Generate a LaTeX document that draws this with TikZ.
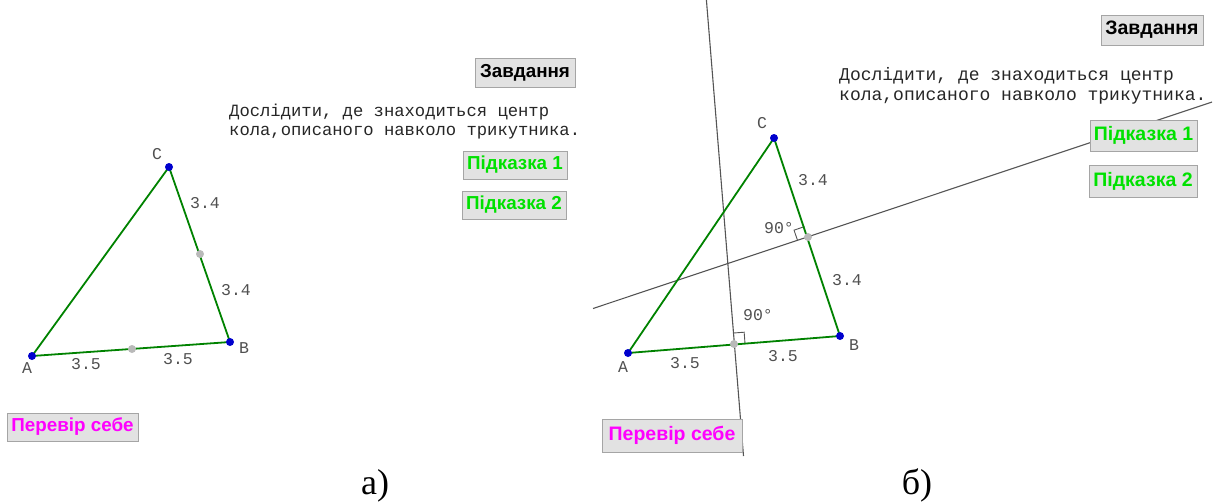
\documentclass[tikz,border=0pt]{standalone}
\usepackage{fontspec}
\setmainfont{Liberation Serif}
\newfontfamily\monof{Liberation Mono}
\newfontfamily\btnf{Liberation Sans}
\usetikzlibrary{calc}
\definecolor{trigreen}{RGB}{0,130,0}
\definecolor{vblue}{RGB}{0,0,205}
\definecolor{midgray}{RGB}{185,185,185}
\definecolor{btnfill}{RGB}{226,226,226}
\definecolor{btnedge}{RGB}{165,165,165}
\definecolor{hintgreen}{RGB}{0,225,0}
\definecolor{checkmag}{RGB}{255,0,255}
\definecolor{lblgray}{RGB}{80,80,80}
\definecolor{perpgray}{RGB}{85,85,85}
\tikzset{
  side/.style={draw=trigreen,line width=1.8pt},
  perpline/.style={draw=perpgray,line width=1.1pt},
  vdot/.style={circle,fill=vblue,inner sep=0pt,minimum size=8pt},
  mdot/.style={circle,fill=midgray,inner sep=0pt,minimum size=8pt},
  lbl/.style={font=\monof\fontsize{16.5}{16}\selectfont,text=lblgray,inner sep=0pt},
  desc/.style={font=\monof\fontsize{17.2}{19}\selectfont,text=black!85,inner sep=0pt,anchor=base west},
  descR/.style={font=\monof\fontsize{18}{20}\selectfont,text=black!85,inner sep=0pt,anchor=base west},
  btn/.style={fill=btnfill,draw=btnedge,line width=0.7pt,inner sep=0pt,font=\btnf\bfseries\fontsize{18.8}{19}\selectfont},
  btnR/.style={btn,font=\btnf\bfseries\fontsize{19.5}{20}\selectfont},
  captxt/.style={font=\fontsize{36}{36}\selectfont,inner sep=0pt,anchor=base},
  rmark/.style={draw=perpgray,line width=0.9pt}
}
\begin{document}
\begin{tikzpicture}[x=1pt,y=-1pt]
\useasboundingbox (0,0) rectangle (1220,503);

% ---------- left panel ----------
\coordinate (lA) at (32,356);
\coordinate (lB) at (230,342);
\coordinate (lC) at (169,167);
\draw[side] (lA) -- (lB) -- (lC) -- cycle;
\node[mdot] (lMab) at (132,349) {};
\node[mdot] (lMcb) at (200,254) {};
\node[vdot] (lAd) at (lA) {};
\node[vdot] (lBd) at (lB) {};
\node[vdot] (lCd) at (lC) {};
\node[lbl] (lAl) at (27,368) {A};
\node[lbl] (lBl) at (244,348) {B};
\node[lbl] (lCl) at (157,154) {C};
\node[lbl] (lcb1) at (205,203) {3.4};
\node[lbl] (lcb2) at (236,290) {3.4};
\node[lbl] (lab1) at (86,364) {3.5};
\node[lbl] (lab2) at (178,359) {3.5};

\node[btn,minimum width=100pt,minimum height=29pt] (lZ) at (525,72.5) {Завдання};
\node[desc] (lD1) at (229,116) {Дослідити, де знаходиться центр};
\node[desc] (lD2) at (229,135) {кола,описаного навколо трикутника.};
\node[btn,minimum width=104pt,minimum height=28pt,text=hintgreen] (lH1) at (515,165) {Підказка 1};
\node[btn,minimum width=104pt,minimum height=28pt,text=hintgreen] (lH2) at (514,205) {Підказка 2};
\node[btn,minimum width=131pt,minimum height=28pt,text=checkmag] (lP) at (72.5,427) {Перевір себе};

% ---------- right panel ----------
\coordinate (rA) at (628,353);
\coordinate (rB) at (840,336);
\coordinate (rC) at (774,138);
\coordinate (rM1) at (734,344);
\coordinate (rM2) at (808,237);
% perpendicular bisectors
\coordinate (p1a) at (706,-5);
\coordinate (p1b) at (743.5,456);
\coordinate (p2a) at (593,308.5);
\coordinate (p2b) at (1212,102);
\draw[perpline] (p1a) -- (p1b);
\draw[perpline] (p2a) -- (p2b);
% right-angle marks
\draw[rmark] ($(rM1)!11pt!(rB)$) -- ($(rM1)!11pt!(rB)!11pt!-90:(rM1)$) -- ($(rM1)!11pt!90:(rB)$);
\draw[rmark] ($(rM2)!11pt!(rC)$) -- ($(rM2)!11pt!(rC)!11pt!-90:(rM2)$) -- ($(rM2)!11pt!90:(rC)$);
\draw[side] (rA) -- (rB) -- (rC) -- cycle;
\node[mdot] (rMab) at (rM1) {};
\node[mdot] (rMcb) at (rM2) {};
\node[vdot] (rAd) at (rA) {};
\node[vdot] (rBd) at (rB) {};
\node[vdot] (rCd) at (rC) {};
\node[lbl] (rAl) at (623,367) {A};
\node[lbl] (rBl) at (854,345) {B};
\node[lbl] (rCl) at (762,123) {C};
\node[lbl] (rcb1) at (813,180) {3.4};
\node[lbl] (rcb2) at (847,280) {3.4};
\node[lbl] (rab1) at (685,363) {3.5};
\node[lbl] (rab2) at (783,356) {3.5};
\node[lbl] (rang1) at (779,228) {90°};
\node[lbl] (rang2) at (758,315) {90°};

\node[btnR,minimum width=102pt,minimum height=30pt] (rZ) at (1152,30) {Завдання};
\node[descR] (rD1) at (839,80) {Дослідити, де знаходиться центр};
\node[descR] (rD2) at (839,100) {кола,описаного навколо трикутника.};
\node[btnR,minimum width=107pt,minimum height=31pt,text=hintgreen] (rH1) at (1143.5,135.5) {Підказка 1};
\node[btnR,minimum width=108pt,minimum height=32pt,text=hintgreen] (rH2) at (1143,181) {Підказка 2};
\node[btnR,minimum width=140pt,minimum height=33pt,text=checkmag] (rP) at (672,435.5) {Перевір себе};

% ---------- captions ----------
\node[captxt] (capa) at (375,494) {а)};
\node[captxt] (capb) at (917,494) {б)};
\end{tikzpicture}
\end{document}
